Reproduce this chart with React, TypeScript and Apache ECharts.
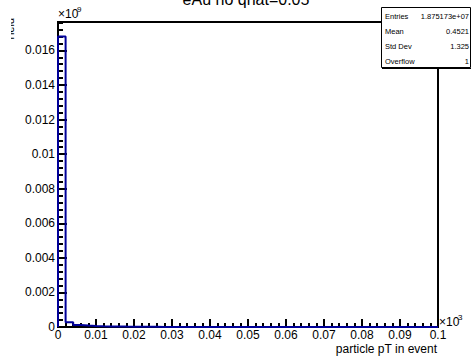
import React, { useEffect, useRef } from "react";
import * as echarts from "echarts";

// Histogram: 50 bins of width 0.002 from 0 to 0.1 (x axis ×10^3), values ×10^9
const binEdgesStart = 0;
const binWidth = 0.002;
const binValues = [
  0.0168, 0.00028, 0.00012, 0.00008, 0.00006, 0.000045, 0.000035, 0.00003, 0.000022, 0.000018,
  0.000014, 0.00001, 0.000008, 0.000006, 0.000005, 0.000004, 0.000003, 0.0000025, 0.000002, 0.0000015,
  0.000001, 0.000001, 0.0000008, 0.0000006, 0.0000005, 0.0000004, 0.0000003, 0.0000003, 0.0000002, 0.0000002,
  0.0000002, 0.0000001, 0.0000001, 0.0000001, 0.0000001, 0, 0, 0, 0, 0,
  0, 0, 0, 0, 0, 0, 0, 0, 0, 0,
];
const statLabels = ["Entries", "Mean", "Std Dev", "Overflow"];
const statValues = ["1.875173e+07", "0.4521", "1.325", "1"];
const titleText = "eAu no qhat=0.05";
const xTitle = "particle pT in event";
const yTitle = "Yield";

const fmt = (v: number) => String(parseFloat(v.toFixed(4)));

export default function App() {
  const ref = useRef<HTMLDivElement>(null);
  useEffect(() => {
    if (!ref.current) return;
    const chart = echarts.init(ref.current, undefined, { renderer: "svg" });
    const pts: number[][] = [[binEdgesStart, 0]];
    binValues.forEach((v, i) => pts.push([binEdgesStart + i * binWidth, v]));
    pts.push([binEdgesStart + binValues.length * binWidth, binValues[binValues.length - 1]]);

    const font = "Liberation Sans, Arial, sans-serif";
    const statRows: any[] = [];
    statLabels.forEach((l, i) => {
      const y = 16 + i * 15;
      statRows.push({
        type: "text", x: 385, y, z: 20,
        style: { text: l, font: `7.5px ${font}`, fill: "#000", textVerticalAlign: "middle" },
      });
      statRows.push({
        type: "text", x: 469, y, z: 20,
        style: { text: statValues[i], font: `7.5px ${font}`, fill: "#000", textAlign: "right", textVerticalAlign: "middle" },
      });
    });

    chart.setOption({
      animation: false,
      backgroundColor: "#fff",
      grid: {
        left: 58, right: 34, top: 22, bottom: 29,
        show: true, borderColor: "#000", borderWidth: 2, backgroundColor: "transparent",
      },
      xAxis: {
        type: "value", min: 0, max: 0.1, interval: 0.01,
        axisLine: { show: true, lineStyle: { color: "#000", width: 2 } },
        axisTick: { show: true, inside: true, length: 8, lineStyle: { color: "#000", width: 2 } },
        minorTick: { show: true, splitNumber: 5, length: 4, lineStyle: { color: "#000", width: 2 } },
        splitLine: { show: false },
        axisLabel: { formatter: fmt, color: "#000", fontSize: 12, fontFamily: font, margin: 2 },
      },
      yAxis: {
        type: "value", min: 0, max: 0.01764, interval: 0.002,
        axisLine: { show: true, lineStyle: { color: "#000", width: 2 } },
        axisTick: { show: true, inside: true, length: 9, lineStyle: { color: "#000", width: 2 } },
        minorTick: { show: true, splitNumber: 5, length: 5, lineStyle: { color: "#000", width: 2 } },
        splitLine: { show: false },
        axisLabel: { formatter: fmt, color: "#000", fontSize: 12, fontFamily: font, margin: 3, showMaxLabel: false },
      },
      series: [
        {
          type: "line", step: "end", data: pts, symbol: "none", z: 1,
          lineStyle: { color: "#000099", width: 2 },
        },
      ],
      graphic: [
        {
          type: "text", x: 246, y: -9, z: 20,
          style: { text: titleText, font: `16px ${font}`, fill: "#000", textAlign: "center", textVerticalAlign: "top" },
        },
        {
          type: "text", x: 58, y: 20, z: 20,
          style: { text: "×10", font: `12px ${font}`, fill: "#000", textVerticalAlign: "bottom" },
        },
        {
          type: "text", x: 77, y: 13, z: 20,
          style: { text: "9", font: `8px ${font}`, fill: "#000", textVerticalAlign: "bottom" },
        },
        {
          type: "text", x: 439, y: 328, z: 20,
          style: { text: "×10", font: `12px ${font}`, fill: "#000", textVerticalAlign: "bottom" },
        },
        {
          type: "text", x: 458, y: 321, z: 20,
          style: { text: "3", font: `8px ${font}`, fill: "#000", textVerticalAlign: "bottom" },
        },
        {
          type: "text", x: 437, y: 349, z: 20,
          style: { text: xTitle, font: `12px ${font}`, fill: "#000", textAlign: "right", textVerticalAlign: "middle" },
        },
        {
          type: "text", x: 15, y: 30, rotation: Math.PI / 2, z: 20,
          style: { text: yTitle, font: `11px ${font}`, fill: "#000", textAlign: "center", textVerticalAlign: "bottom" },
        },
        {
          type: "rect", z: 21, shape: { x: 0, y: 0, width: 11, height: 45 },
          style: { fill: "#fff" },
        },
        {
          type: "rect", z: 19, shape: { x: 381.5, y: 7.5, width: 89, height: 60 },
          style: { fill: "#fff", stroke: "#000", lineWidth: 1 },
        },
        {
          type: "line", z: 19, shape: { x1: 382, y1: 68.5, x2: 471, y2: 68.5 },
          style: { stroke: "#000", lineWidth: 1 },
        },
        ...statRows,
      ],
    });
    return () => chart.dispose();
  }, []);
  return <div ref={ref} style={{ width: 472, height: 356, position: "absolute", left: 0, top: 0 }} />;
}
